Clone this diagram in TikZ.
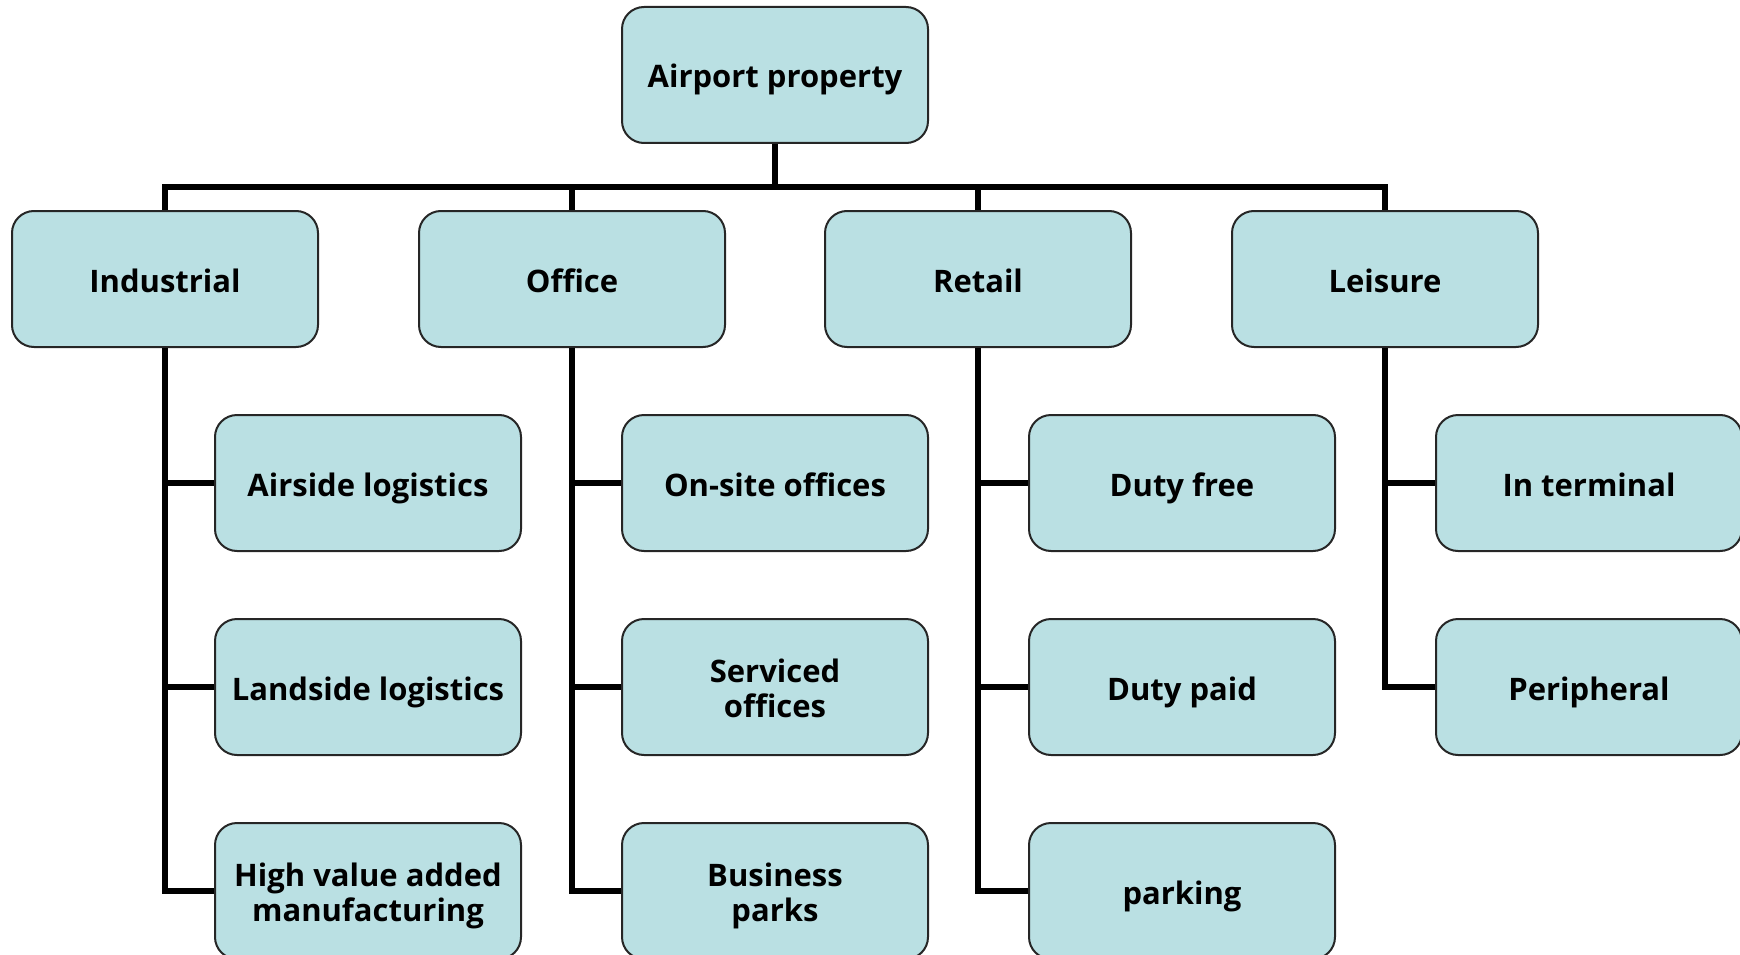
\documentclass[tikz,border=0pt]{standalone}
\usepackage{fontspec}
\setmainfont{Open Sans}
\begin{document}
\begin{tikzpicture}[x=1pt,y=-1pt,
  box/.style={draw=black!85, line width=2pt, fill=boxfill, rounded corners=22pt,
    minimum width=306pt, minimum height=136pt, inner sep=4pt,
    align=center, font=\fontsize{31}{35}\selectfont\bfseries,
    execute at begin node={\rule{0pt}{36pt}},
    execute at end node={\rule[-10pt]{0pt}{10pt}}},
  twoline/.style={box, execute at begin node={\rule{0pt}{70pt}}},
  link/.style={line width=5.5pt, draw=black}]
\definecolor{boxfill}{RGB}{186,224,227}
\useasboundingbox (0,0) rectangle (1740,955);
\clip (0,0) rectangle (1740,955);

% root and first level
\node[box] (root) at (775,75) {Airport property};
\node[box] (ind) at (165,279) {Industrial};
\node[box] (off) at (572,279) {Office};
\node[box] (ret) at (978,279) {Retail};
\node[box] (lei) at (1385,279) {Leisure};

% second level
\node[box] (ind1) at (368,483) {Airside logistics};
\node[box] (ind2) at (368,687) {Landside logistics};
\node[twoline] (ind3) at (368,891) {High value added\\manufacturing};
\node[box] (off1) at (775,483) {On-site offices};
\node[twoline] (off2) at (775,687) {Serviced\\offices};
\node[twoline] (off3) at (775,891) {Business\\parks};
\node[box] (ret1) at (1182,483) {Duty free};
\node[box] (ret2) at (1182,687) {Duty paid};
\node[box] (ret3) at (1182,891) {parking};
\node[box] (lei1) at (1589,483) {In terminal};
\node[box] (lei2) at (1589,687) {Peripheral};

% bus from root to first level
\coordinate (bus) at (775,187);
\draw[link] (root.south) -- (bus);
\draw[link] (ind.north) |- (bus) -| (lei.north);
\draw[link] (off.north) -- (off.north |- bus);
\draw[link] (ret.north) -- (ret.north |- bus);

% branches to second level
\draw[link] (ind.south) |- (ind3.west);
\draw[link] (ind.south |- ind1.west) -- (ind1.west);
\draw[link] (ind.south |- ind2.west) -- (ind2.west);
\draw[link] (off.south) |- (off3.west);
\draw[link] (off.south |- off1.west) -- (off1.west);
\draw[link] (off.south |- off2.west) -- (off2.west);
\draw[link] (ret.south) |- (ret3.west);
\draw[link] (ret.south |- ret1.west) -- (ret1.west);
\draw[link] (ret.south |- ret2.west) -- (ret2.west);
\draw[link] (lei.south) |- (lei2.west);
\draw[link] (lei.south |- lei1.west) -- (lei1.west);
\end{tikzpicture}
\end{document}
